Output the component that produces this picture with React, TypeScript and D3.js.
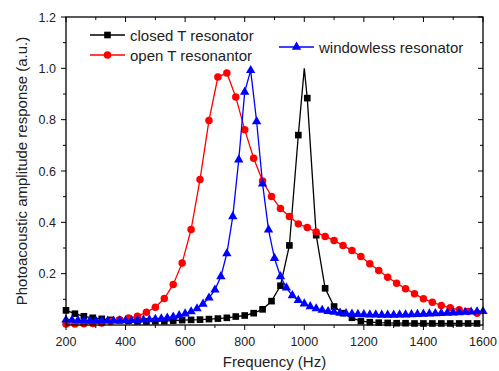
import { useEffect, useRef } from 'react';
import * as d3 from 'd3';

const W = 499;
const H = 371;

// frequencies sampled every 30 Hz (closed / open T resonators)
const freq30 = [
  200, 230, 260, 290, 320, 350, 380, 410, 440, 470, 500, 530, 560, 590, 620, 650,
  680, 710, 740, 770, 800, 830, 860, 890, 920, 950, 980, 1010, 1040, 1070, 1100,
  1130, 1160, 1190, 1220, 1250, 1280, 1310, 1340, 1370, 1400, 1430, 1460, 1490,
  1520, 1550, 1580,
];

// frequencies sampled every 20 Hz (windowless resonator)
const freq20 = [
  200, 220, 240, 260, 280, 300, 320, 340, 360, 380, 400, 420, 440, 460, 480, 500,
  520, 540, 560, 580, 600, 620, 640, 660, 680, 700, 720, 740, 760, 780, 800, 820,
  840, 860, 880, 900, 920, 940, 960, 980, 1000, 1020, 1040, 1060, 1080, 1100, 1120,
  1140, 1160, 1180, 1200, 1220, 1240, 1260, 1280, 1300, 1320, 1340, 1360, 1380,
  1400, 1420, 1440, 1460, 1480, 1500, 1520, 1540, 1560, 1580, 1600,
];

const closedT = [
  0.057, 0.044, 0.034, 0.028, 0.024, 0.02, 0.018, 0.016, 0.014, 0.014, 0.015, 0.015,
  0.017, 0.019, 0.02, 0.021, 0.023, 0.025, 0.028, 0.033, 0.037, 0.046, 0.061, 0.093,
  0.153, 0.31, 0.74, 0.884, 0.35, 0.143, 0.072, 0.046, 0.028, 0.015, 0.011, 0.009,
  0.008, 0.007, 0.007, 0.006, 0.006, 0.006, 0.006, 0.006, 0.006, 0.006, 0.006,
];
// peak of the closed resonator, on the line but without a marker
const closedPeak = { f: 1000, v: 1.0 };

const openT = [
  0.004, 0.004, 0.005, 0.006, 0.008, 0.014, 0.02, 0.027, 0.034, 0.05, 0.069, 0.103,
  0.158, 0.242, 0.372, 0.567, 0.797, 0.966, 0.982, 0.888, 0.761, 0.65, 0.561, 0.501,
  0.454, 0.423, 0.394, 0.38, 0.362, 0.345, 0.329, 0.31, 0.29, 0.267, 0.239, 0.212,
  0.186, 0.163, 0.141, 0.122, 0.102, 0.089, 0.076, 0.067, 0.059, 0.053, 0.046,
];

const windowless = [
  0.02, 0.019, 0.018, 0.017, 0.016, 0.016, 0.016, 0.016, 0.016, 0.017, 0.017, 0.018,
  0.019, 0.02, 0.021, 0.023, 0.025, 0.028, 0.032, 0.037, 0.044, 0.052, 0.064, 0.082,
  0.106, 0.137, 0.189, 0.278, 0.423, 0.644, 0.908, 0.992, 0.793, 0.55, 0.371, 0.26,
  0.189, 0.145, 0.115, 0.096, 0.083, 0.072, 0.064, 0.058, 0.053, 0.05, 0.047, 0.045,
  0.043, 0.042, 0.041, 0.04, 0.04, 0.039, 0.039, 0.039, 0.04, 0.04, 0.041, 0.042,
  0.043, 0.044, 0.045, 0.046, 0.047, 0.048, 0.049, 0.05, 0.051, 0.052, 0.053,
];

const xTicks = [200, 400, 600, 800, 1000, 1200, 1400, 1600];
const yTicks = [0.2, 0.4, 0.6, 0.8, 1.0, 1.2];

type Pt = { f: number; v: number };
type Marker = 'square' | 'circle' | 'triangle';

const symbolFor = (m: Marker) =>
  m === 'square'
    ? d3.symbol().type(d3.symbolSquare).size(44)
    : m === 'circle'
    ? d3.symbol().type(d3.symbolCircle).size(44)
    : d3.symbol().type(d3.symbolTriangle).size(38);

export default function App() {
  const svgRef = useRef<SVGSVGElement>(null);

  useEffect(() => {
    if (!svgRef.current) return;
    const svg = d3.select(svgRef.current);
    svg.selectAll('*').remove();

    const margin = { top: 17, right: 16, bottom: 46, left: 66 };
    const x = d3.scaleLinear().domain([200, 1600]).range([margin.left, W - margin.right]);
    const y = d3.scaleLinear().domain([0, 1.2]).range([H - margin.bottom, margin.top]);
    const font = 'Arial, "Liberation Sans", sans-serif';

    const x0 = x.range()[0], x1 = x.range()[1];
    const y0 = y.range()[0], y1 = y.range()[1];

    const line = d3
      .line<Pt>()
      .x((d) => x(d.f))
      .y((d) => y(d.v));

    const closedPts: Pt[] = freq30.map((f, i) => ({ f, v: closedT[i] }));
    const openPts: Pt[] = freq30.map((f, i) => ({ f, v: openT[i] }));
    const winPts: Pt[] = freq20.map((f, i) => ({ f, v: windowless[i] }));
    const closedLine = [...closedPts, closedPeak].sort((a, b) => a.f - b.f);

    const plot = svg.append('g');

    const drawSeries = (lineData: Pt[], pts: Pt[], color: string, marker: Marker) => {
      plot
        .append('path')
        .datum(lineData)
        .attr('fill', 'none')
        .attr('stroke', color)
        .attr('stroke-width', 1.3)
        .attr('d', line);
      const sym = symbolFor(marker);
      plot
        .append('g')
        .selectAll('path')
        .data(pts)
        .join('path')
        .attr('transform', (d) => `translate(${x(d.f)},${y(d.v)})`)
        .attr('d', sym() as string)
        .attr('fill', color);
    };

    drawSeries(closedLine, closedPts, '#000000', 'square');
    drawSeries(openPts, openPts, '#ff0000', 'circle');
    drawSeries(winPts, winPts, '#0000ff', 'triangle');

    // frame
    svg
      .append('rect')
      .attr('x', x0)
      .attr('y', y1)
      .attr('width', x1 - x0)
      .attr('height', y0 - y1)
      .attr('fill', 'none')
      .attr('stroke', '#000')
      .attr('stroke-width', 1.3);

    const ticks = svg.append('g').attr('stroke', '#000').attr('stroke-width', 1);
    const xMinor = d3.range(300, 1600, 200);
    xTicks.forEach((t) => {
      ticks.append('line').attr('x1', x(t)).attr('x2', x(t)).attr('y1', y0).attr('y2', y0 + 5);
      ticks.append('line').attr('x1', x(t)).attr('x2', x(t)).attr('y1', y1).attr('y2', y1 + 5);
    });
    xMinor.forEach((t) => {
      ticks.append('line').attr('x1', x(t)).attr('x2', x(t)).attr('y1', y0).attr('y2', y0 + 3);
      ticks.append('line').attr('x1', x(t)).attr('x2', x(t)).attr('y1', y1).attr('y2', y1 + 3);
    });
    const yMinor = [0.1, 0.3, 0.5, 0.7, 0.9, 1.1];
    yTicks.forEach((t) => {
      ticks.append('line').attr('x1', x0 - 5).attr('x2', x0).attr('y1', y(t)).attr('y2', y(t));
      ticks.append('line').attr('x1', x1 - 5).attr('x2', x1).attr('y1', y(t)).attr('y2', y(t));
    });
    yMinor.forEach((t) => {
      ticks.append('line').attr('x1', x0 - 3).attr('x2', x0).attr('y1', y(t)).attr('y2', y(t));
      ticks.append('line').attr('x1', x1 - 3).attr('x2', x1).attr('y1', y(t)).attr('y2', y(t));
    });

    const labels = svg.append('g').attr('font-family', font).attr('fill', '#222');
    xTicks.forEach((t) => {
      labels
        .append('text')
        .attr('x', x(t))
        .attr('y', y0 + 21)
        .attr('text-anchor', 'middle')
        .attr('font-size', 12.5)
        .text(String(t));
    });
    yTicks.forEach((t) => {
      labels
        .append('text')
        .attr('x', x0 - 10)
        .attr('y', y(t) + 4.5)
        .attr('text-anchor', 'end')
        .attr('font-size', 12.5)
        .text(d3.format('.1f')(t));
    });

    labels
      .append('text')
      .attr('x', (x0 + x1) / 2)
      .attr('y', H - 4)
      .attr('text-anchor', 'middle')
      .attr('font-size', 15)
      .text('Frequency (Hz)');
    labels
      .append('text')
      .attr('transform', `translate(27,${(y0 + y1) / 2}) rotate(-90)`)
      .attr('text-anchor', 'middle')
      .attr('font-size', 15)
      .text('Photoacoustic amplitude response (a.u.)');

    // legend
    const legend: { label: string; color: string; marker: Marker; lx: number; ly: number }[] = [
      { label: 'closed T resonator', color: '#000000', marker: 'square', lx: 90, ly: 35 },
      { label: 'open T resonantor', color: '#ff0000', marker: 'circle', lx: 90, ly: 55 },
      { label: 'windowless resonator', color: '#0000ff', marker: 'triangle', lx: 279, ly: 47 },
    ];
    legend.forEach((l) => {
      const g = svg.append('g');
      g.append('line')
        .attr('x1', l.lx)
        .attr('x2', l.lx + 35)
        .attr('y1', l.ly)
        .attr('y2', l.ly)
        .attr('stroke', l.color)
        .attr('stroke-width', 1.3);
      g.append('path')
        .attr('transform', `translate(${l.lx + 17.5},${l.ly})`)
        .attr('d', symbolFor(l.marker)() as string)
        .attr('fill', l.color);
      g.append('text')
        .attr('x', l.lx + 40)
        .attr('y', l.ly + 5.5)
        .attr('font-family', font)
        .attr('font-size', 15)
        .attr('fill', '#222')
        .text(l.label);
    });
  }, []);

  return (
    <svg
      ref={svgRef}
      width={W}
      height={H}
      style={{ position: 'absolute', left: 0, top: 0, background: '#fff' }}
    />
  );
}
